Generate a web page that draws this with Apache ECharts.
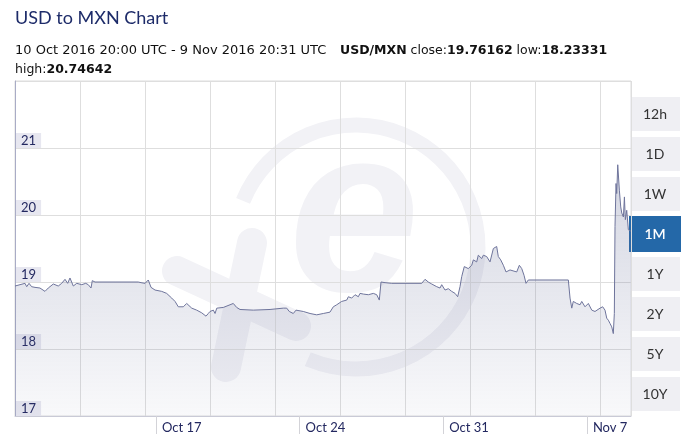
<!DOCTYPE html>
<html><head><meta charset="utf-8">
<script src="https://cdn.jsdelivr.net/npm/echarts@6/dist/echarts.min.js"></script>
<style>html,body{margin:0;padding:0;background:#fff}#c{width:695px;height:446px}</style>
</head><body><div id="c"></div>
<script>
// hours since 10 Oct 2016 20:00 UTC
const hours = [
  0, 5.85, 11.7, 13.7, 16.4, 19.5, 23.4, 29.2, 35.1, 38.9,
  44.8, 50.6, 54.6, 58.5, 61.6, 64.3, 68.2, 72.2, 78.1, 82.7,
  85.7, 88.9, 90.4, 93.6, 117.0, 144.2, 147.4, 152.1, 155.9, 159.1,
  163.8, 171.6, 177.4, 183.3, 187.2, 191.0, 196.9, 200.8, 202.7, 206.7,
  212.5, 218.4, 223.4, 226.1, 228.1, 232.0, 234.0, 236.0, 243.6, 251.5,
  255.3, 259.3, 263.2, 278.7, 298.3, 313.8, 317.8, 320.8, 325.5, 328.7,
  337.2, 345.1, 352.9, 360.6, 368.4, 372.3, 376.3, 382.1, 388.0, 389.9,
  393.8, 397.7, 401.6, 403.5, 407.4, 413.3, 419.1, 423.1, 426.1, 428.1,
  432.8, 440.6, 475.7, 479.6, 483.4, 487.4, 493.3, 497.1, 499.1, 503.0,
  506.8, 510.8, 514.7, 517.8, 520.5, 522.5, 525.5, 530.2, 534.2, 536.1,
  540.0, 541.9, 545.9, 547.8, 551.7, 555.6, 559.5, 563.4, 565.3, 568.1,
  571.2, 574.3, 579.0, 586.8, 589.9, 592.7, 595.4, 597.7, 600.4, 647.2,
  649.2, 651.2, 653.0, 657.0, 660.9, 662.9, 666.7, 670.6, 674.6, 678.4,
  684.3, 687.4, 690.1, 692.1, 694.0, 696.0, 698.0, 699.8, 701.0, 701.8,
  703.0, 703.8, 705.0, 706.9, 708.5, 709.7, 711.6, 712.8, 713.9, 715.5,
  717.4, 720.3
];
const rates = [
  18.94, 18.96, 18.98, 18.93, 18.98, 18.93, 18.92, 18.91, 18.86, 18.91,
  18.97, 18.94, 18.98, 19.04, 18.98, 19.06, 18.94, 18.98, 18.96, 18.98,
  18.96, 18.91, 19.02, 19.00, 19.00, 19.00, 18.99, 18.98, 19.03, 18.92,
  18.88, 18.86, 18.83, 18.76, 18.71, 18.63, 18.63, 18.68, 18.66, 18.61,
  18.58, 18.54, 18.49, 18.53, 18.56, 18.58, 18.53, 18.61, 18.62, 18.66,
  18.68, 18.62, 18.59, 18.58, 18.59, 18.61, 18.61, 18.56, 18.53, 18.58,
  18.56, 18.53, 18.51, 18.53, 18.55, 18.63, 18.66, 18.71, 18.73, 18.78,
  18.76, 18.81, 18.78, 18.83, 18.82, 18.81, 18.83, 18.81, 18.73, 19.00,
  18.99, 18.98, 18.98, 19.04, 19.00, 18.97, 18.93, 18.91, 18.96, 18.88,
  18.90, 18.86, 18.83, 18.78, 18.93, 19.08, 19.23, 19.20, 19.25, 19.33,
  19.30, 19.40, 19.35, 19.40, 19.38, 19.30, 19.50, 19.53, 19.38, 19.33,
  19.25, 19.15, 19.18, 19.15, 19.25, 19.20, 19.10, 18.98, 19.03, 19.03,
  18.76, 18.61, 18.71, 18.68, 18.66, 18.71, 18.63, 18.68, 18.58, 18.56,
  18.61, 18.63, 18.58, 18.46, 18.43, 18.38, 18.33, 18.23, 18.53, 19.83,
  20.47, 20.32, 20.75, 20.37, 20.12, 20.03, 19.97, 20.27, 19.93, 20.07,
  19.78, 19.76
];
const totalHours = 720.5;
const tickHours = [164.9, 332.9, 500.9, 668.9];
const tickLabels = ['Oct 17', 'Oct 24', 'Oct 31', 'Nov 7'];
const gridHours = 76.03;
const yMin = 17, yMax = 22, yStep = 1;
const rangeButtons = ['12h', '1D', '1W', '1M', '1Y', '2Y', '5Y', '10Y'];
const selectedRange = '1M';
const titleText = 'USD to MXN Chart';
const periodText = '10 Oct 2016 20:00 UTC - 9 Nov 2016 20:31 UTC';
const pairText = 'USD/MXN';
const closeVal = '19.76162', lowVal = '18.23331', highVal = '20.74642';

const FONT = 'Lato, "Open Sans", sans-serif';
const SUBFONT = '"DejaVu Sans", sans-serif';
const chart = echarts.init(document.getElementById('c'), null, {renderer: 'canvas'});

const graphics = [];
// watermark
const wm = '#f2f2f6';
graphics.push({type: 'arc', z: -5, shape: {cx: 356, cy: 247, r: 122, startAngle: 3.53, endAngle: 8.26, clockwise: true},
  style: {stroke: wm, lineWidth: 15, fill: null}});
graphics.push({type: 'text', z: -5, x: 354, y: 226, style: {text: 'e', fill: wm, font: 'italic bold 235px "Liberation Sans"', align: 'center', verticalAlign: 'middle'}});
graphics.push({type: 'line', z: -5, shape: {x1: 252, y1: 243, x2: 226, y2: 367}, style: {stroke: wm, lineWidth: 30, lineCap: 'round'}});
graphics.push({type: 'line', z: -5, shape: {x1: 177, y1: 271, x2: 296, y2: 326}, style: {stroke: wm, lineWidth: 30, lineCap: 'round'}});
// header
graphics.push({type: 'text', x: 15, y: 18, style: {text: titleText, fill: '#1d2b69', font: '18px ' + FONT, verticalAlign: 'middle'}});
const subStyle = {fill: '#111', fontSize: 12.5, fontFamily: SUBFONT, verticalAlign: 'middle',
  rich: {b: {fontWeight: 'bold', fontSize: 12.5, fontFamily: SUBFONT, fill: '#111'}}};
graphics.push({type: 'text', x: 15, y: 51, style: Object.assign({}, subStyle, {text: periodText, fontSize: 13})});
graphics.push({type: 'text', x: 340, y: 51, style: Object.assign({
  text: '{b|' + pairText + '} close:{b|' + closeVal + '} low:{b|' + lowVal + '}'}, subStyle)});
graphics.push({type: 'text', x: 15, y: 70, style: Object.assign({text: 'high:{b|' + highVal + '}'}, subStyle)});
// range buttons
rangeButtons.forEach((label, i) => {
  const sel = label === selectedRange;
  const y0 = 97 + i * 40;
  graphics.push({type: 'rect', shape: sel ? {x: 629, y: y0 - 1, width: 52, height: 36} : {x: 630, y: y0, width: 50, height: 34},
    style: {fill: sel ? '#2468a8' : '#efeff3'}});
  graphics.push({type: 'text', x: 655, y: y0 + 17, style: {text: label, fill: sel ? '#fff' : '#333',
    font: (sel ? '600 ' : '') + '14px ' + FONT, align: 'center', verticalAlign: 'middle'}});
});

chart.setOption({
  animation: false,
  grid: {left: 15, top: 81, width: 616, height: 335, show: true, borderColor: '#dcdcdc', borderWidth: 1, backgroundColor: 'transparent'},
  xAxis: [{
    type: 'value', min: 0, max: totalHours, position: 'bottom',
    axisLine: {show: true, lineStyle: {color: '#c9cad6'}},
    axisTick: {show: true, customValues: tickHours, length: 18, lineStyle: {color: '#d3d3d8'}},
    axisLabel: {customValues: tickHours, margin: 5, align: 'left', padding: [0, 0, 0, 6], color: '#232860', fontSize: 13, fontFamily: FONT,
      formatter: v => { let best = 0; tickHours.forEach((t, i) => { if (Math.abs(t - v) < Math.abs(tickHours[best] - v)) best = i; }); return tickLabels[best]; }},
    splitLine: {show: false}
  }, {
    type: 'value', min: 0, max: totalHours, interval: gridHours, position: 'bottom',
    axisLine: {show: false}, axisTick: {show: false}, axisLabel: {show: false},
    splitLine: {show: true, lineStyle: {color: '#dedede', width: 1}}
  }],
  yAxis: {
    type: 'value', min: yMin, max: yMax, interval: yStep,
    axisLine: {show: true, lineStyle: {color: '#a9acc6'}},
    axisTick: {show: false},
    splitLine: {lineStyle: {color: '#dedede'}},
    axisLabel: {inside: true, margin: 1, showMaxLabel: false, verticalAlign: 'bottom', color: '#232860', fontSize: 13, fontFamily: FONT,
      backgroundColor: '#e7e7f0', padding: [1, 5, 0, 5], lineHeight: 14}
  },
  series: [{
    type: 'line', xAxisIndex: 0, showSymbol: false, symbol: 'none',
    data: hours.map((h, i) => [h, rates[i]]),
    lineStyle: {color: '#6e749b', width: 1},
    areaStyle: {color: new echarts.graphic.LinearGradient(0, 0, 0, 1, [
      {offset: 0, color: 'rgba(100,108,150,0.40)'},
      {offset: 1, color: 'rgba(100,108,150,0.06)'}])},
    z: 3
  }],
  graphic: {elements: graphics}
});
</script></body></html>
